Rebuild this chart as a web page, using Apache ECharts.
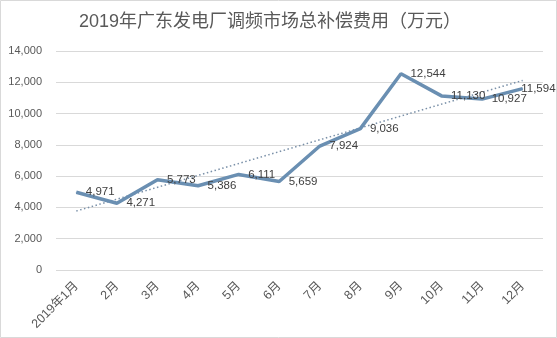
<!DOCTYPE html>
<html>
<head>
<meta charset="utf-8">
<script src="https://cdn.jsdelivr.net/npm/echarts@6/dist/echarts.min.js"></script>
<style>
  html, body { margin: 0; padding: 0; background: #fff; }
  #chart { width: 557px; height: 338px; }
</style>
</head>
<body>
<div id="chart"></div>
<script>
// Monthly frequency-regulation compensation, Guangdong 2019 (10k CNY)
const months = ['2019年1月', '2月', '3月', '4月', '5月', '6月', '7月', '8月', '9月', '10月', '11月', '12月'];
const compensation = [4971, 4271, 5773, 5386, 6111, 5659, 7924, 9036, 12544, 11130, 10927, 11594];
// Linear trend line: start and end values
const trendEnds = [3770, 12120];
const yTicks = { min: 0, max: 14000, interval: 2000 };

const trendData = months.map((m, i) => i === 0 ? trendEnds[0] : (i === months.length - 1 ? trendEnds[1] : null));

const textColor = '#595959';
const font = '"Liberation Sans", "Noto Sans CJK SC", sans-serif';
const lineColor = '#6a8fb2';

const chart = echarts.init(document.getElementById('chart'), null, { renderer: 'canvas' });
chart.setOption({
  animation: false,
  backgroundColor: '#fff',
  title: {
    text: '2019年广东发电厂调频市场总补偿费用（万元）',
    left: 74,
    top: 8,
    textStyle: { color: textColor, fontSize: 18, fontWeight: 'normal', fontFamily: font }
  },
  graphic: [{
    type: 'rect',
    shape: { x: 0.5, y: 0.5, width: 556, height: 337 },
    style: { fill: 'none', stroke: '#d9d9d9', lineWidth: 1 },
    silent: true
  }],
  grid: { left: 56, right: 14, top: 51, bottom: 68 },
  xAxis: {
    type: 'category',
    data: months,
    boundaryGap: true,
    axisLine: { show: false },
    axisTick: { show: false },
    axisLabel: { rotate: 45, color: textColor, fontSize: 12.5, fontFamily: font, margin: 14 }
  },
  yAxis: {
    type: 'value',
    min: yTicks.min, max: yTicks.max, interval: yTicks.interval,
    axisLine: { show: false },
    axisTick: { show: false },
    splitLine: { lineStyle: { color: '#d9d9d9', width: 1 } },
    axisLabel: {
      color: textColor, fontSize: 11, fontFamily: font, margin: 14,
      formatter: v => v.toLocaleString('en-US')
    }
  },
  series: [
    {
      name: '趋势',
      type: 'line',
      data: trendData,
      connectNulls: true,
      symbol: 'none',
      lineStyle: { color: '#7a90a8', width: 1.5, type: [1.5, 2.5] },
      z: 1
    },
    {
      name: '补偿费用',
      type: 'line',
      data: compensation.map((v, i) => i === compensation.length - 1
        ? { value: v, label: { offset: [-11, 0] } }
        : v),
      symbol: 'circle',
      symbolSize: 1,
      showSymbol: true,
      itemStyle: { color: lineColor },
      lineStyle: { color: lineColor, width: 3.5 },
      label: {
        show: true,
        position: 'right',
        distance: 9,
        color: '#404040',
        fontSize: 11.5,
        fontFamily: font,
        formatter: p => Number(p.value).toLocaleString('en-US')
      },
      z: 2
    }
  ]
});
</script>
</body>
</html>
